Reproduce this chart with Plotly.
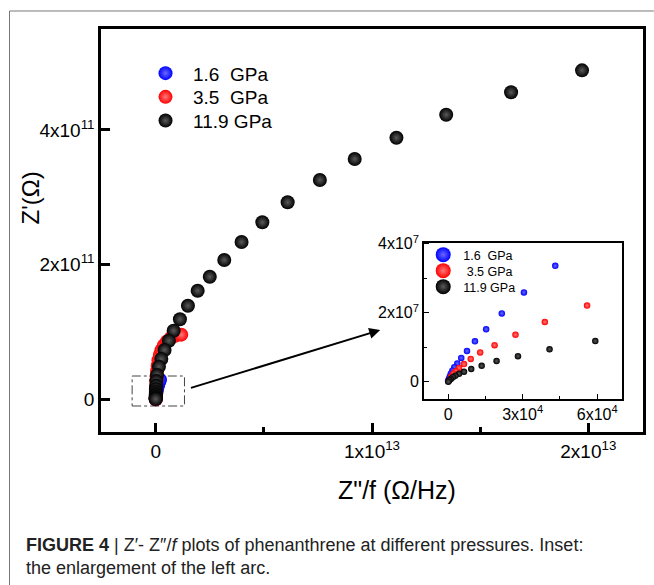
import plotly.graph_objects as go

# ---------------- data ----------------
# main plot: Z''/f (Ohm/Hz) and Z' (Ohm)
blue_x = [0.0, 0.0003e13, 0.0008e13, 0.0015e13, 0.0025e13, 0.004e13, 0.006e13, 0.009e13, 0.012e13, 0.016e13, 0.020e13]
blue_y = [0.0, 0.015e11, 0.035e11, 0.06e11, 0.09e11, 0.12e11, 0.155e11, 0.19e11, 0.225e11, 0.26e11, 0.29e11]

red_x = [0.0, 0.0002e13, 0.0005e13, 0.001e13, 0.0015e13, 0.002e13, 0.003e13, 0.004e13, 0.006e13, 0.009e13,
         0.013e13, 0.019e13, 0.027e13, 0.038e13, 0.052e13, 0.070e13, 0.092e13, 0.118e13]
red_y = [0.0, 0.02e11, 0.05e11, 0.09e11, 0.14e11, 0.20e11, 0.27e11, 0.34e11, 0.42e11, 0.50e11,
         0.58e11, 0.66e11, 0.73e11, 0.80e11, 0.86e11, 0.91e11, 0.945e11, 0.96e11]

black_x = [1.971e13, 1.643e13, 1.343e13, 1.113e13, 0.920e13, 0.759e13, 0.610e13, 0.493e13, 0.397e13, 0.317e13,
           0.250e13, 0.194e13, 0.149e13, 0.112e13, 0.083e13, 0.061e13, 0.041e13, 0.026e13, 0.015e13, 0.006e13,
           0.003e13, 0.002e13, 0.001e13, 0.0007e13, 0.0004e13, 0.0002e13, 0.0001e13, 0.00005e13, 0.00002e13, 0.0]
black_y = [4.886e11, 4.560e11, 4.227e11, 3.885e11, 3.569e11, 3.257e11, 2.926e11, 2.629e11, 2.336e11, 2.069e11,
           1.821e11, 1.613e11, 1.390e11, 1.188e11, 1.019e11, 0.870e11, 0.732e11, 0.598e11, 0.484e11, 0.36e11,
           0.27e11, 0.20e11, 0.15e11, 0.11e11, 0.08e11, 0.055e11, 0.035e11, 0.02e11, 0.01e11, 0.004e11]

# inset: enlargement of the left arc
in_blue_x = [4.31e4, 3.05e4, 2.16e4, 1.53e4, 1.08e4, 0.76e4, 0.53e4, 0.37e4, 0.25e4, 0.17e4, 0.11e4, 0.07e4, 0.03e4, 0.0]
in_blue_y = [3.36e7, 2.59e7, 1.98e7, 1.52e7, 1.17e7, 0.89e7, 0.69e7, 0.53e7, 0.42e7, 0.32e7, 0.23e7, 0.15e7, 0.08e7, 0.02e7]
in_red_x = [5.59e4, 3.89e4, 2.71e4, 1.87e4, 1.29e4, 0.91e4, 0.64e4, 0.44e4, 0.31e4, 0.21e4, 0.13e4, 0.09e4, 0.03e4]
in_red_y = [2.21e7, 1.73e7, 1.36e7, 1.06e7, 0.85e7, 0.66e7, 0.51e7, 0.40e7, 0.30e7, 0.23e7, 0.15e7, 0.09e7, 0.03e7]
in_black_x = [5.92e4, 4.08e4, 2.81e4, 1.95e4, 1.35e4, 0.93e4, 0.64e4, 0.44e4, 0.29e4, 0.19e4, 0.11e4, 0.05e4, 0.01e4]
in_black_y = [1.18e7, 0.94e7, 0.74e7, 0.60e7, 0.46e7, 0.37e7, 0.29e7, 0.23e7, 0.17e7, 0.13e7, 0.08e7, 0.05e7, 0.0]

series_names = ["1.6\u00a0\u00a0GPa", "3.5\u00a0\u00a0GPa", "11.9 GPa"]
inset_names = ["1.6\u00a0\u00a0GPa", "\u00a03.5 GPa", "11.9 GPa"]

main_xticks = [0, 1e13, 2e13]
main_xticktext = ["0", "1x10<sup>13</sup>", "2x10<sup>13</sup>"]
main_yticks = [0, 2e11, 4e11]
main_yticktext = ["0", "2x10<sup>11</sup>", "4x10<sup>11</sup>"]
in_xticks = [0, 3e4, 6e4]
in_xticktext = ["0", "3x10<sup>4</sup>", "6x10<sup>4</sup>"]
in_yticks = [0, 2e7, 4e7]
in_yticktext = ["0", "2x10<sup>7</sup>", "4x10<sup>7</sup>"]

caption1 = "<b>FIGURE 4</b> | Z\u2032- Z\u2033/<i>f</i> plots of phenanthrene at different pressures. Inset:"
caption2 = "the enlargement of the left arc."

# ---------------- styling ----------------
FONT = "Arial, Liberation Sans, sans-serif"
colors = ["#0000ff", "#ff0000", "#000000"]
centers = ["#6a6aff", "#ff7a7a", "#5a5a5a"]

# one legend per entry so each row sits where the original puts it
main_legends = ["legend", "legend2", "legend3"]
inset_legends = ["legend4", "legend5", "legend6"]
main_leg_y = [0.9372, 0.8784, 0.8196]
inset_leg_y = [0.4764, 0.4367, 0.3970]

fig = go.Figure()

main_sets = [(blue_x, blue_y), (red_x, red_y), (black_x, black_y)]
for (xs, ys), name, c, cc, lg in zip(main_sets, series_names, colors, centers, main_legends):
    fig.add_trace(go.Scatter(
        x=xs, y=ys, mode="markers", name=name, legend=lg,
        marker=dict(size=14, color=c, line=dict(width=0),
                    gradient=dict(type="radial", color=cc)),
        xaxis="x", yaxis="y"))

inset_sets = [(in_blue_x, in_blue_y), (in_red_x, in_red_y), (in_black_x, in_black_y)]
for (xs, ys), name, c, cc in zip(inset_sets, inset_names, colors, centers):
    fig.add_trace(go.Scatter(
        x=xs, y=ys, mode="markers", name=name, showlegend=False,
        marker=dict(size=6.5, color=c, line=dict(width=0),
                    gradient=dict(type="radial", color=cc)),
        xaxis="x2", yaxis="y2"))
# legend entries for the inset (larger symbols, as in the original)
for name, c, cc, lg in zip(inset_names, colors, centers, inset_legends):
    fig.add_trace(go.Scatter(
        x=[None], y=[None], mode="markers", name=name, legend=lg,
        marker=dict(size=15, color=c, line=dict(width=0),
                    gradient=dict(type="radial", color=cc)),
        xaxis="x2", yaxis="y2"))

axis_common = dict(showgrid=False, zeroline=False, showline=True, mirror=True,
                   ticks="inside", tickcolor="#000", linecolor="#000")

legend_layout = {}
for lg, yy in zip(main_legends, main_leg_y):
    legend_layout[lg] = dict(x=0.0683, y=yy, xanchor="left", yanchor="top", bgcolor="rgba(0,0,0,0)",
                             font=dict(size=19, family=FONT), itemsizing="trace", itemwidth=45)
for lg, yy in zip(inset_legends, inset_leg_y):
    legend_layout[lg] = dict(x=0.5945, y=yy, xanchor="left", yanchor="top", bgcolor="rgba(0,0,0,0)",
                             font=dict(size=12.5, family=FONT), itemsizing="trace", itemwidth=30)

fig.update_layout(
    width=654, height=585,
    margin=dict(l=101, r=8, t=29, b=153),
    paper_bgcolor="white", plot_bgcolor="white",
    font=dict(family=FONT, color="#000"),
    xaxis=dict(**axis_common, domain=[0, 1], range=[-0.2529e13, 2.2529e13],
               linewidth=2.5, tickwidth=2.5, ticklen=9,
               tickmode="array", tickvals=main_xticks, ticktext=main_xticktext,
               tickfont=dict(size=19, family=FONT),
               minor=dict(ticks="inside", ticklen=5, tickwidth=2.5, tick0=0, dtick=0.5e13, tickcolor="#000")),
    yaxis=dict(**axis_common, domain=[0, 1], range=[-0.4857e11, 5.4998e11],
               linewidth=2.5, tickwidth=2.5, ticklen=9,
               tickmode="array", tickvals=main_yticks, ticktext=main_yticktext,
               tickfont=dict(size=19, family=FONT)),
    xaxis2=dict(**axis_common, domain=[0.5958, 0.9615], anchor="y2", range=[-0.972e4, 7.0e4],
                linewidth=1.5, tickwidth=1.2, ticklen=5,
                tickmode="array", tickvals=in_xticks, ticktext=in_xticktext,
                tickfont=dict(size=16, family=FONT),
                minor=dict(ticks="inside", ticklen=3, tickwidth=1.2, tick0=0, dtick=1.5e4, tickcolor="#000")),
    yaxis2=dict(**axis_common, domain=[0.0819, 0.4697], anchor="x2", range=[-0.501e7, 4.03e7],
                linewidth=1.5, tickwidth=1.2, ticklen=5,
                tickmode="array", tickvals=in_yticks, ticktext=in_yticktext,
                tickfont=dict(size=16, family=FONT),
                minor=dict(ticks="inside", ticklen=3, tickwidth=1.2, tick0=0, dtick=1e7, tickcolor="#000")),
    showlegend=True,
    **legend_layout,
)

# dashed box around the enlarged region and arrow to the inset
fig.add_shape(type="rect", xref="x", yref="y", x0=-0.109e13, x1=0.133e13, y0=-0.0995e11, y1=0.346e11,
              line=dict(color="#444", width=1, dash="dashdot"), layer="below")
fig.add_annotation(x=1.038e13, y=1.029e11, ax=0.156e13, ay=0.163e11, xref="x", yref="y",
                   axref="x", ayref="y", showarrow=True, arrowhead=2, arrowsize=1.1,
                   arrowwidth=2, arrowcolor="#000", text="")

# axis titles
fig.add_annotation(text="Z'(\u03a9)", xref="paper", yref="paper", x=-0.1303, y=0.5806,
                   textangle=-90, showarrow=False, font=dict(size=24, family=FONT),
                   xanchor="center", yanchor="middle")
fig.add_annotation(text='Z"/f (\u03a9/Hz)', xref="paper", yref="paper", x=0.546, y=-0.1439,
                   showarrow=False, font=dict(size=25, family=FONT),
                   xanchor="center", yanchor="middle")

# caption
fig.add_annotation(text=caption1, xref="paper", yref="paper", x=-0.1413, y=-0.2804,
                   xanchor="left", yanchor="middle", showarrow=False,
                   font=dict(size=18, family=FONT, color="#222"))
fig.add_annotation(text=caption2, xref="paper", yref="paper", x=-0.1413, y=-0.3375,
                   xanchor="left", yanchor="middle", showarrow=False,
                   font=dict(size=18, family=FONT, color="#222"))

# outer page frame (gray top and left rules)
fig.add_shape(type="line", xref="paper", yref="paper", x0=-0.1688, x1=1.02, y0=1.0447, y1=1.0447,
              line=dict(color="#777", width=1))
fig.add_shape(type="line", xref="paper", yref="paper", x0=-0.1688, x1=-0.1688, y0=1.0447, y1=-0.40,
              line=dict(color="#777", width=1))

fig.write_html("out.html")
